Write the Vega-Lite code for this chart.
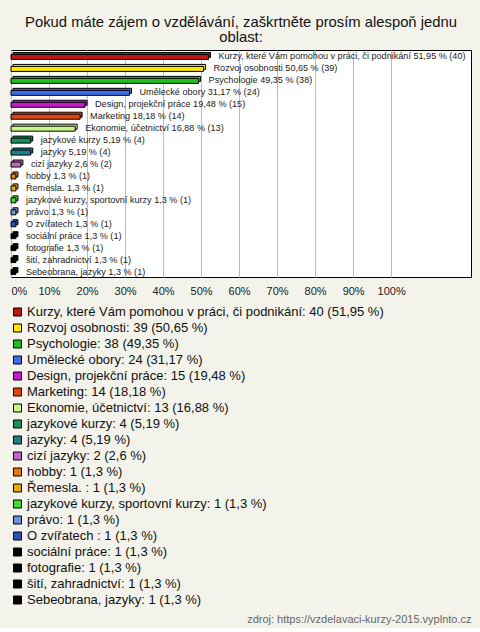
{
  "$schema": "https://vega.github.io/schema/vega-lite/v6.json",
  "background": "#f3f3eb",
  "padding": {"left": 10, "right": 10, "top": 15, "bottom": 4},
  "width": 460,
  "height": 227,
  "title": {
    "text": ["Pokud máte zájem o vzdělávání, zaškrtněte prosím alespoň jednu", "oblast:"],
    "fontSize": 14.8,
    "fontWeight": "normal",
    "color": "#111111",
    "lineHeight": 15,
    "offset": 5,
    "anchor": "middle"
  },
  "data": {
    "values": [
      {"cat": "Kurzy, které Vám pomohou v práci, či podnikání", "n": 40, "pct": 51.95, "label": "Kurzy, které Vám pomohou v práci, či podnikání 51,95 % (40)", "legend": "Kurzy, které Vám pomohou v práci, či podnikání: 40 (51,95 %)"},
      {"cat": "Rozvoj osobnosti", "n": 39, "pct": 50.65, "label": "Rozvoj osobnosti 50,65 % (39)", "legend": "Rozvoj osobnosti: 39 (50,65 %)"},
      {"cat": "Psychologie", "n": 38, "pct": 49.35, "label": "Psychologie 49,35 % (38)", "legend": "Psychologie: 38 (49,35 %)"},
      {"cat": "Umělecké obory", "n": 24, "pct": 31.17, "label": "Umělecké obory 31,17 % (24)", "legend": "Umělecké obory: 24 (31,17 %)"},
      {"cat": "Design, projekční práce", "n": 15, "pct": 19.48, "label": "Design, projekční práce 19,48 % (15)", "legend": "Design, projekční práce: 15 (19,48 %)"},
      {"cat": "Marketing", "n": 14, "pct": 18.18, "label": "Marketing 18,18 % (14)", "legend": "Marketing: 14 (18,18 %)"},
      {"cat": "Ekonomie, účetnictví", "n": 13, "pct": 16.88, "label": "Ekonomie, účetnictví 16,88 % (13)", "legend": "Ekonomie, účetnictví: 13 (16,88 %)"},
      {"cat": "jazykové kurzy", "n": 4, "pct": 5.19, "label": "jazykové kurzy 5,19 % (4)", "legend": "jazykové kurzy: 4 (5,19 %)"},
      {"cat": "jazyky", "n": 4, "pct": 5.19, "label": "jazyky 5,19 % (4)", "legend": "jazyky: 4 (5,19 %)"},
      {"cat": "cizí jazyky", "n": 2, "pct": 2.6, "label": "cizí jazyky 2,6 % (2)", "legend": "cizí jazyky: 2 (2,6 %)"},
      {"cat": "hobby", "n": 1, "pct": 1.3, "label": "hobby 1,3 % (1)", "legend": "hobby: 1 (1,3 %)"},
      {"cat": "Řemesla. ", "n": 1, "pct": 1.3, "label": "Řemesla.  1,3 % (1)", "legend": "Řemesla. : 1 (1,3 %)"},
      {"cat": "jazykové kurzy, sportovní kurzy", "n": 1, "pct": 1.3, "label": "jazykové kurzy, sportovní kurzy 1,3 % (1)", "legend": "jazykové kurzy, sportovní kurzy: 1 (1,3 %)"},
      {"cat": "právo", "n": 1, "pct": 1.3, "label": "právo 1,3 % (1)", "legend": "právo: 1 (1,3 %)"},
      {"cat": "O zvířatech ", "n": 1, "pct": 1.3, "label": "O zvířatech  1,3 % (1)", "legend": "O zvířatech : 1 (1,3 %)"},
      {"cat": "sociální práce", "n": 1, "pct": 1.3, "label": "sociální práce 1,3 % (1)", "legend": "sociální práce: 1 (1,3 %)"},
      {"cat": "fotografie", "n": 1, "pct": 1.3, "label": "fotografie 1,3 % (1)", "legend": "fotografie: 1 (1,3 %)"},
      {"cat": "šití, zahradnictví", "n": 1, "pct": 1.3, "label": "šití, zahradnictví 1,3 % (1)", "legend": "šití, zahradnictví: 1 (1,3 %)"},
      {"cat": "Sebeobrana, jazyky", "n": 1, "pct": 1.3, "label": "Sebeobrana, jazyky 1,3 % (1)", "legend": "Sebeobrana, jazyky: 1 (1,3 %)"}
    ]
  },
  "encoding": {
    "y": {"field": "cat", "type": "nominal", "sort": null, "axis": null, "scale": {"paddingInner": 0, "paddingOuter": 0}},
    "x": {
      "field": "pct", "type": "quantitative",
      "scale": {"domain": [0, 121], "nice": false, "zero": true},
      "axis": {
        "values": [0, 10, 20, 30, 40, 50, 60, 70, 80, 90, 100],
        "labelExpr": "datum.value + '%'",
        "grid": true,
        "gridColor": "#bdbdbd",
        "gridWidth": 1,
        "domain": false,
        "ticks": false,
        "labelFlush": true,
        "labelFontSize": 11,
        "labelColor": "#222222",
        "labelPadding": 8,
        "title": "zdroj: https://vzdelavaci-kurzy-2015.vyplnto.cz",
        "titleAnchor": "end",
        "titleAlign": "right",
        "titleX": 460,
        "titleY": 342,
        "titleBaseline": "middle",
        "titleFontSize": 11,
        "titleFontWeight": "normal",
        "titleColor": "#666666"
      }
    }
  },
  "layer": [
    {
      "mark": {"type": "bar", "size": 5, "stroke": "#000000", "strokeWidth": 1, "xOffset": 2, "yOffset": -1},
      "encoding": {
        "color": {
          "field": "legend", "type": "nominal", "sort": null,
          "scale": {"range": ["#c0160f", "#ffe600", "#1fbf1f", "#3f6ce8", "#c41bd1", "#e0440f", "#c8f58a", "#16915a", "#1f7d8c", "#c266c6", "#e67a10", "#e6aa0a", "#44dd2c", "#6c94dc", "#2a52b8", "#000000", "#000000", "#000000", "#000000"]},
          "legend": {
            "orient": "none",
            "legendX": 0,
            "legendY": 255.5,
            "title": null,
            "direction": "vertical",
            "symbolType": "square",
            "symbolSize": 64,
            "symbolStrokeColor": "#000000",
            "symbolStrokeWidth": 1,
            "symbolOpacity": 1,
            "labelFontSize": 13,
            "labelColor": "#111111",
            "labelOffset": 3,
            "labelLimit": 470,
            "rowPadding": 2,
            "padding": 0
          }
        }
      }
    },
    {
      "mark": {"type": "bar", "size": 5, "stroke": "#000000", "strokeWidth": 1, "yOffset": 1},
      "encoding": {
        "color": {"field": "legend", "type": "nominal", "sort": null}
      }
    },
    {
      "mark": {"type": "text", "align": "left", "baseline": "middle", "dx": 10, "fontSize": 9.1, "color": "#222222", "yOffset": 0.5},
      "encoding": {
        "text": {"field": "label"}
      }
    }
  ],
  "config": {
    "font": "Liberation Sans",
    "view": {"fill": "#ffffff", "stroke": "#000000", "strokeWidth": 1},
    "bar": {"opacity": 1}
  }
}
